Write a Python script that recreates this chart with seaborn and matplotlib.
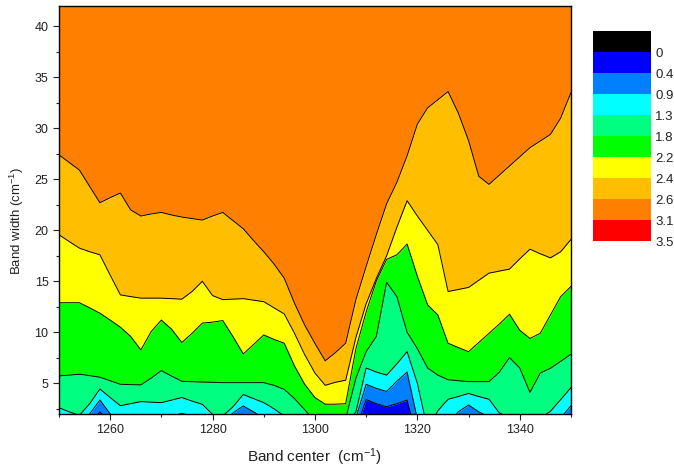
import numpy as np
import matplotlib
matplotlib.use("Agg")
import matplotlib.pyplot as plt
import seaborn as sns
import pandas as pd
from matplotlib.colors import ListedColormap, BoundaryNorm
from matplotlib.cm import ScalarMappable
from matplotlib.ticker import MultipleLocator

# ---------------- data ----------------
band_center = [1250, 1252, 1254, 1256, 1258, 1260, 1262, 1264, 1266, 1268,
               1270, 1272, 1274, 1276, 1278, 1280, 1282, 1284, 1286, 1288,
               1290, 1292, 1294, 1296, 1298, 1300, 1302, 1304, 1306, 1308,
               1310, 1312, 1314, 1316, 1318, 1320, 1322, 1324, 1326, 1328,
               1330, 1332, 1334, 1336, 1338, 1340, 1342, 1344, 1346, 1348,
               1350]

# band width (cm-1) at which each contour level is crossed, per band center
# (values below 2 lie under the visible range)
h04 = [0.0, -0.2, 0.0, 1.0, 2.2, 1.0, 0.5, 0.5, 0.5, 0.5,
       0.6, 0.8, 1.0, 0.8, 0.5, 0.0, 0.0, 1.0, 1.7, 1.2,
       0.6, 0.2, 0.0, -0.2, -0.4, -0.6, -0.8, -0.8, -0.7, 0.5,
       3.4, 3.0, 2.7, 3.0, 3.36, -0.5, -1.5, -0.5, 0.0, 1.0,
       1.8, 1.0, 0.5, 0.2, 0.0, -0.1, -0.1, 0.0, 0.2, 0.6,
       1.8]
h09 = [1.0, 0.8, 1.0, 2.0, 3.36, 2.0, 1.5, 1.5, 1.5, 1.5,
       1.6, 1.8, 2.05, 1.8, 1.5, 1.0, 1.0, 2.1, 2.78, 2.2,
       1.6, 1.2, 1.0, 0.8, 0.6, 0.4, 0.2, 0.2, 0.3, 1.6,
       4.9, 4.5, 4.2, 5.2, 6.1, 1.5, -0.5, 0.5, 1.0, 2.2,
       2.87, 2.2, 1.7, 1.2, 1.0, 0.9, 0.9, 1.0, 1.2, 1.6,
       2.8]
h13 = [2.6, 2.2, 1.85, 3.0, 4.44, 3.6, 2.8, 3.0, 3.2, 3.15,
       3.1, 3.35, 3.6, 3.25, 2.94, 1.95, 1.8, 2.7, 3.9, 3.5,
       3.1, 2.5, 1.8, 1.2, 1.0, 0.8, 0.6, 0.6, 0.9, 2.2,
       6.5, 6.1, 5.8, 6.9, 8.1, 5.0, 0.5, 2.3, 3.43, 3.7,
       4.0, 3.7, 3.43, 2.1, 1.6, 1.4, 1.4, 1.6, 2.25, 3.4,
       4.57]
h18 = [5.72, 5.8, 5.89, 5.75, 5.59, 5.25, 4.9, 4.87, 4.84, 5.5,
       6.24, 5.7, 5.2, 5.15, 5.12, 5.1, 5.06, 5.06, 5.06, 5.06,
       5.06, 4.8, 4.4, 3.5, 2.4, 1.3, 0.8, 0.8, 1.5, 5.5,
       8.1, 9.6, 14.9, 13.5, 10.0, 8.4, 6.5, 5.8, 5.35, 5.25,
       5.16, 5.16, 5.16, 6.08, 7.52, 6.5, 4.1, 6.0, 6.47, 7.15,
       7.85]
h22 = [12.9, 12.9, 12.9, 12.4, 11.87, 11.2, 10.5, 9.6, 8.27, 10.07,
       11.2, 10.3, 9.0, 9.9, 10.9, 11.0, 11.15, 9.57, 7.88, 8.8,
       9.74, 9.3, 8.93, 6.7, 4.9, 3.6, 2.95, 2.95, 3.0, 8.4,
       12.0, 15.05, 17.15, 17.6, 18.65, 15.5, 12.7, 11.7, 8.93, 8.5,
       8.1, 9.0, 9.9, 10.8, 11.77, 10.2, 9.4, 9.9, 11.7, 13.5,
       14.5]
h24 = [19.56, 18.9, 18.25, 17.9, 17.6, 15.6, 13.67, 13.5, 13.35, 13.35,
       13.35, 13.3, 13.25, 14.0, 15.0, 13.6, 13.2, 13.25, 13.3, 13.15,
       13.0, 12.4, 11.8, 9.9, 7.8, 6.0, 4.8, 5.1, 5.3, 9.5,
       12.8, 15.3, 17.5, 20.3, 22.9, 21.4, 20.0, 18.6, 14.0, 14.2,
       14.4, 15.1, 15.8, 16.0, 16.2, 17.2, 18.15, 17.7, 17.3, 17.9,
       19.1]
h26 = [27.4, 26.65, 25.9, 24.3, 22.7, 23.2, 23.65, 22.0, 21.4, 21.6,
       21.75, 21.5, 21.3, 21.15, 21.0, 21.4, 21.75, 20.95, 20.15, 19.0,
       17.9, 16.7, 15.3, 12.85, 10.7, 8.9, 7.2, 8.0, 8.93, 13.2,
       16.45, 19.6, 22.6, 24.7, 27.3, 30.4, 32.0, 32.8, 33.6, 31.5,
       28.8, 25.3, 24.5, 25.4, 26.3, 27.2, 28.1, 28.75, 29.4, 31.0,
       33.5]

level_values = [0, 0.4, 0.9, 1.3, 1.8, 2.2, 2.4, 2.6, 3.1, 3.5]
level_labels = ["0", "0.4", "0.9", "1.3", "1.8", "2.2", "2.4", "2.6", "3.1", "3.5"]
band_colors = ["#000000", "#0000FF", "#0080FF", "#00FFFF", "#00FF80",
               "#00FF00", "#FFFF00", "#FFBF00", "#FF8000", "#FF0000"]

y_min, y_max = 2, 42

# ---------------- plot ----------------
sns.set_style("ticks")
plt.rcParams["font.family"] = ["Liberation Sans", "DejaVu Sans"]
plt.rcParams["mathtext.fontset"] = "custom"
plt.rcParams["mathtext.rm"] = "Liberation Sans"
plt.rcParams["mathtext.default"] = "regular"

fig = plt.figure(figsize=(6.74, 4.70), dpi=100)
ax = fig.add_axes([0.0875, 0.1194, 0.7596, 0.8679])

x = np.array(band_center, dtype=float)
bottom = np.full_like(x, -10.0)
top = np.full_like(x, 60.0)
edges = [bottom, np.array(h04), np.array(h09), np.array(h13), np.array(h18),
         np.array(h22), np.array(h24), np.array(h26), top]
fills = band_colors[1:9]   # blue ... orange
for lo, hi, c in zip(edges[:-1], edges[1:], fills):
    ax.fill_between(x, lo, hi, color=c, linewidth=0, antialiased=True)

lines = pd.DataFrame({"center": np.tile(x, 7),
                      "width": np.concatenate(edges[1:8]),
                      "level": np.repeat(["0.4", "0.9", "1.3", "1.8", "2.2", "2.4", "2.6"], len(x))})
sns.lineplot(data=lines, x="center", y="width", units="level", estimator=None,
             color="black", linewidth=0.7, ax=ax, sort=False)

ax.set_xlim(1250, 1350)
ax.set_ylim(y_min, y_max)
ax.xaxis.set_major_locator(MultipleLocator(20))
ax.xaxis.set_minor_locator(MultipleLocator(10))
ax.set_yticks([5, 10, 15, 20, 25, 30, 35, 40])
ax.yaxis.set_minor_locator(MultipleLocator(2.5))
ax.tick_params(which="major", direction="out", length=4, width=0.8,
               labelsize=9, colors="#222222", top=False, right=False)
ax.tick_params(which="minor", direction="out", length=2.5, width=0.8,
               top=False, right=False, colors="#222222")
for s in ax.spines.values():
    s.set_visible(True)
    s.set_color("black")
    s.set_linewidth(1.0)
    s.set_zorder(5)

ax.set_xlabel("Band center  (cm$^{-1}$)", fontsize=11, labelpad=7, color="#222222")
ax.set_ylabel("Band width (cm$^{-1}$)", fontsize=9.5, color="#222222")
ax.yaxis.set_label_coords(-0.064, 0.473)

# colour scale
bounds = [-0.5] + level_values
cax = fig.add_axes([0.8794, 0.4872, 0.0865, 0.4468])
sm = ScalarMappable(norm=BoundaryNorm(bounds, len(band_colors)),
                    cmap=ListedColormap(band_colors))
cb = fig.colorbar(sm, cax=cax, boundaries=bounds, spacing="uniform",
                  ticks=level_values)
cb.set_ticklabels(level_labels)
cb.ax.invert_yaxis()
cb.ax.minorticks_off()
cb.outline.set_visible(False)
cb.ax.tick_params(length=0, labelsize=9.5, pad=3, colors="#222222")

fig.savefig("out.png", dpi=100)
